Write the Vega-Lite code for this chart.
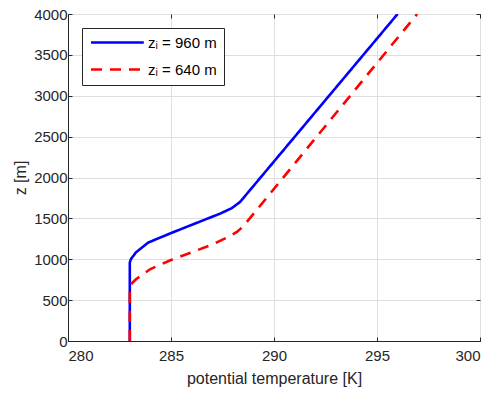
{
  "$schema": "https://vega.github.io/schema/vega-lite/v6.json",
  "width": 412,
  "height": 327,
  "autosize": {"type": "none"},
  "padding": {"left": 68, "top": 14, "right": 20, "bottom": 56},
  "background": "white",
  "config": {
    "font": "Liberation Sans",
    "view": {"stroke": "#262626", "strokeWidth": 1},
    "axis": {
      "domainColor": "#262626",
      "tickColor": "#262626",
      "labelColor": "#262626",
      "titleColor": "#262626",
      "labelFontSize": 15,
      "titleFontSize": 16,
      "titleFontWeight": "normal",
      "gridColor": "#dfdfdf",
      "tickSize": -4,
      "labelPadding": 5,
      "format": "d"
    }
  },
  "datasets": {
    "zi960": [
      {"theta": 283.0, "z": 0, "case": "zᵢ = 960 m"},
      {"theta": 283.0, "z": 960, "case": "zᵢ = 960 m"},
      {"theta": 283.05, "z": 1000, "case": "zᵢ = 960 m"},
      {"theta": 283.3, "z": 1085, "case": "zᵢ = 960 m"},
      {"theta": 283.9, "z": 1205, "case": "zᵢ = 960 m"},
      {"theta": 285.0, "z": 1320, "case": "zᵢ = 960 m"},
      {"theta": 286.4, "z": 1460, "case": "zᵢ = 960 m"},
      {"theta": 287.4, "z": 1560, "case": "zᵢ = 960 m"},
      {"theta": 287.95, "z": 1625, "case": "zᵢ = 960 m"},
      {"theta": 288.35, "z": 1700, "case": "zᵢ = 960 m"},
      {"theta": 296.0, "z": 4000, "case": "zᵢ = 960 m"}
    ],
    "zi640": [
      {"theta": 283.0, "z": 0, "case": "zᵢ = 640 m"},
      {"theta": 283.0, "z": 650, "case": "zᵢ = 640 m"},
      {"theta": 283.1, "z": 705, "case": "zᵢ = 640 m"},
      {"theta": 283.3, "z": 755, "case": "zᵢ = 640 m"},
      {"theta": 284.0, "z": 880, "case": "zᵢ = 640 m"},
      {"theta": 285.0, "z": 990, "case": "zᵢ = 640 m"},
      {"theta": 286.0, "z": 1085, "case": "zᵢ = 640 m"},
      {"theta": 287.0, "z": 1180, "case": "zᵢ = 640 m"},
      {"theta": 287.8, "z": 1275, "case": "zᵢ = 640 m"},
      {"theta": 288.2, "z": 1335, "case": "zᵢ = 640 m"},
      {"theta": 288.5, "z": 1400, "case": "zᵢ = 640 m"},
      {"theta": 296.95, "z": 4000, "case": "zᵢ = 640 m"}
    ]
  },
  "layer": [
    {
      "encoding": {
        "x": {
          "field": "theta", "type": "quantitative",
          "scale": {"domain": [280, 300], "nice": false, "zero": false},
          "axis": {"title": "potential temperature [K]", "values": [280, 285, 290, 295, 300], "labelPadding": 11, "titlePadding": 7}
        },
        "y": {
          "field": "z", "type": "quantitative",
          "scale": {"domain": [0, 4000], "nice": false},
          "axis": {"title": "z [m]", "values": [0, 500, 1000, 1500, 2000, 2500, 3000, 3500, 4000], "titlePadding": 5}
        },
        "color": {
          "field": "case", "type": "nominal",
          "scale": {"domain": ["zᵢ = 960 m", "zᵢ = 640 m"], "range": ["#0000ff", "#ff0000"]},
          "legend": {
            "title": null,
            "orient": "none",
            "legendX": 14,
            "legendY": 14,
            "strokeColor": "#262626",
            "fillColor": "white",
            "padding": 7,
            "symbolType": "M-1,0H8.6",
            "symbolSize": 121,
            "symbolStrokeWidth": 2.5,
            "symbolFillColor": "transparent",
            "labelFontSize": 15,
            "labelColor": "#000000",
            "rowPadding": 11,
            "labelOffset": 44
          }
        },
        "strokeDash": {
          "field": "case", "type": "nominal",
          "scale": {"domain": ["zᵢ = 960 m", "zᵢ = 640 m"], "range": [[1, 0], [11, 8]]},
          "legend": null
        }
      },
      "layer": [
        {
          "data": {"name": "zi960"},
          "mark": {"type": "line", "strokeWidth": 2.6, "clip": true}
        },
        {
          "data": {"name": "zi640"},
          "mark": {"type": "line", "strokeWidth": 2.6, "clip": true}
        }
      ]
    },
    {
      "data": {"values": [{"v": 0}]},
      "mark": {"type": "rule", "opacity": 0},
      "encoding": {
        "x": {"field": "v", "type": "quantitative", "scale": {"domain": [280, 300], "nice": false, "zero": false}, "axis": {"orient": "top", "labels": false, "title": null, "grid": false, "values": [280, 285, 290, 295, 300], "domain": false}},
        "y": {"field": "v", "type": "quantitative", "scale": {"domain": [0, 4000], "nice": false}, "axis": {"orient": "right", "labels": false, "title": null, "grid": false, "values": [0, 500, 1000, 1500, 2000, 2500, 3000, 3500, 4000], "domain": false}}
      }
    }
  ],
  "resolve": {"axis": {"x": "independent", "y": "independent"}}
}
